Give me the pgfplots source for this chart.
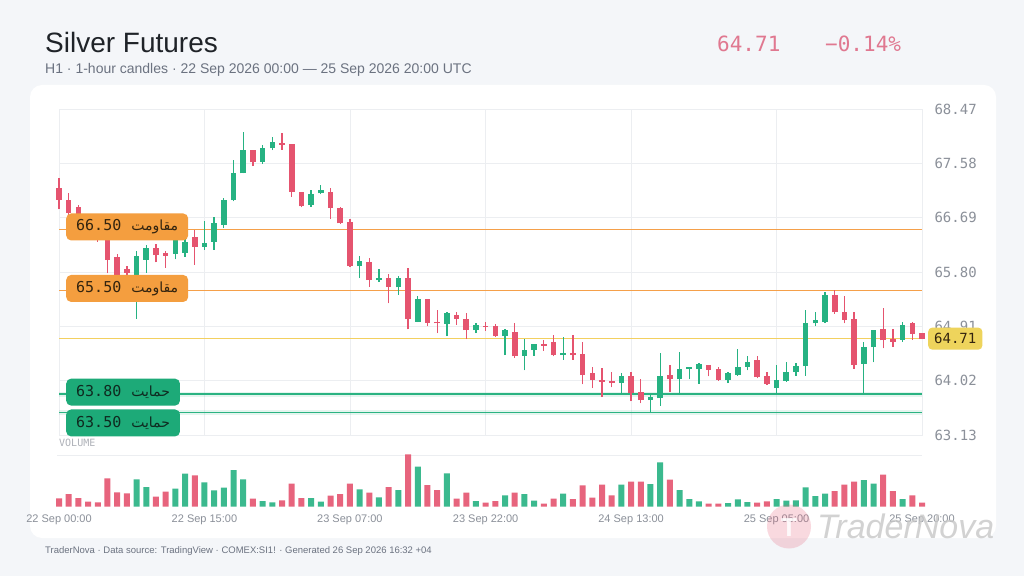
\documentclass[border=0pt]{standalone}
\usepackage{fontspec}
\usepackage{pgfplots}
\usepackage{pgfplotstable}
\pgfplotsset{compat=1.18}
\setmainfont{Liberation Sans}
\newfontfamily\monofont{DejaVu Sans Mono}
\newfontfamily\arabicfont[Script=Arabic]{DejaVu Sans}
\TeXXeTstate=1
\definecolor{bg}{HTML}{F4F6F9}
\definecolor{upc}{HTML}{26B282}
\definecolor{dnc}{HTML}{E5546F}
\definecolor{gridc}{HTML}{ECEEF1}
\definecolor{tickc}{HTML}{8B9099}
\definecolor{orline}{HTML}{F5A04A}
\definecolor{orbox}{HTML}{F49E3F}
\definecolor{grline}{HTML}{2BB382}
\definecolor{grbox}{HTML}{1DAA78}
\definecolor{yline}{HTML}{F3D060}
\definecolor{ytag}{HTML}{EED45C}
\definecolor{pricec}{HTML}{E07890}
\definecolor{titlec}{HTML}{1F2328}
\definecolor{subc}{HTML}{6B7280}
\definecolor{boxtext}{HTML}{33240F}
\definecolor{gboxtext}{HTML}{0F2A20}

\pgfplotstableread{
i O H L C V
8 65.70 66.14 65.04 66.07 82
9 66.00 66.24 65.79 66.19 59
12 66.10 66.39 66.01 66.33 54
13 66.12 66.40 66.05 66.30 99
15 66.22 66.64 66.17 66.28 73
16 66.30 66.71 66.17 66.60 49
17 66.58 67.01 66.52 66.98 57
18 66.98 67.64 66.96 67.42 110
19 67.42 68.10 67.42 67.80 82
21 67.61 67.88 67.58 67.84 17
22 67.83 68.01 67.80 67.94 13
26 66.90 67.15 66.87 67.08 26
27 67.09 67.23 67.08 67.15 15
31 65.90 66.07 65.70 65.99 52
33 65.67 65.85 65.64 65.70 28
35 65.55 65.73 65.43 65.71 50
37 64.99 65.41 64.98 65.36 120
40 64.95 65.15 64.75 65.13 100
43 64.85 64.96 64.80 64.93 17
46 64.75 64.86 64.44 64.85 34
48 64.43 64.71 64.19 64.52 38
49 64.52 64.62 64.43 64.62 18
52 64.44 64.74 64.36 64.47 39
58 63.98 64.15 63.81 64.10 66
61 63.70 63.81 63.51 63.76 68
62 63.73 64.47 63.61 64.10 133
64 64.04 64.49 63.79 64.22 50
65 64.21 64.25 64.04 64.24 23
66 64.21 64.31 63.97 64.29 16
69 64.03 64.17 63.98 64.14 11
70 64.11 64.54 64.10 64.25 22
71 64.25 64.43 64.19 64.33 14
74 63.90 64.28 63.80 64.03 23
75 64.02 64.32 64.00 64.17 18
76 64.17 64.31 64.10 64.26 19
77 64.26 65.18 64.10 64.97 58
78 64.96 65.14 64.91 65.02 32
79 64.99 65.48 64.97 65.43 39
83 64.30 64.66 63.80 64.58 80
84 64.57 64.85 64.32 64.85 69
87 64.69 64.99 64.66 64.93 23
}\upT

\pgfplotstableread{
i O H L C V
0 67.18 67.34 66.83 66.99 25
1 66.98 67.10 66.68 66.77 38
2 66.86 66.90 66.50 66.62 26
3 66.62 66.70 66.42 66.50 15
4 66.50 66.56 66.30 66.36 13
5 66.33 66.36 65.78 66.00 85
6 66.05 66.09 65.70 65.76 43
7 65.85 65.90 65.72 65.79 40
10 66.19 66.26 65.96 66.08 30
11 66.11 66.15 65.87 66.07 45
14 66.38 66.49 65.92 66.22 94
20 67.80 67.80 67.54 67.60 24
23 67.92 68.08 67.81 67.89 19
24 67.90 67.90 67.04 67.12 69
25 67.12 67.12 66.86 66.88 26
28 67.12 67.18 66.67 66.85 33
29 66.85 66.86 66.59 66.60 38
30 66.63 66.67 65.89 65.90 69
32 65.97 66.04 65.56 65.67 42
34 65.70 65.77 65.29 65.56 59
36 65.70 65.86 64.86 65.03 157
38 65.36 65.36 64.91 64.97 65
39 64.99 65.18 64.80 64.96 50
41 65.10 65.15 64.94 65.03 24
42 65.03 65.13 64.71 64.85 42
44 64.92 64.99 64.84 64.90 12
45 64.92 64.95 64.74 64.75 17
47 64.82 64.97 64.40 64.42 42
50 64.63 64.69 64.51 64.59 9
51 64.66 64.77 64.42 64.44 24
53 64.48 64.77 64.36 64.44 23
54 64.46 64.66 63.96 64.11 64
55 64.14 64.25 63.90 64.03 27
56 64.03 64.23 63.76 64.00 66
57 64.02 64.16 63.91 63.98 34
59 64.10 64.17 63.68 63.82 75
60 63.83 64.04 63.65 63.70 75
63 64.11 64.28 63.84 64.04 81
67 64.27 64.27 64.09 64.20 9
68 64.22 64.24 64.02 64.03 9
72 64.36 64.43 64.06 64.08 12
73 64.09 64.17 63.95 63.97 16
80 65.43 65.50 65.12 65.14 47
81 65.15 65.41 64.96 65.02 66
82 65.03 65.14 64.22 64.28 75
85 64.86 65.22 64.55 64.68 96
86 64.70 64.86 64.58 64.66 47
88 64.96 64.99 64.69 64.79 34
89 64.80 64.80 64.70 64.71 12
}\dnT

\newcommand{\lvl}[2]{{\monofont\fontsize{15}{15}\selectfont #1}\hspace{10pt}{\arabicfont\fontsize{14}{14}\selectfont\beginR #2\endR}}

\begin{document}
\begin{tikzpicture}[x=1pt,y=1pt]
\fill[bg] (0,0) rectangle (1024,576);
\fill[white, rounded corners=12pt] (30,38) rectangle (996,491);
\coordinate (candleSW) at (59,141);
\coordinate (volSW) at (59,69.3);

% header
\node[anchor=base west, inner sep=0pt, text=titlec, font=\fontsize{28}{28}\selectfont] at (45,523) {Silver Futures};
\node[anchor=base west, inner sep=0pt, text=subc, font=\fontsize{14}{14}\selectfont] at (45,502) {H1 · 1-hour candles · 22 Sep 2026 00:00 — 25 Sep 2026 20:00 UTC};
\node[anchor=base west, inner sep=0pt, text=pricec, font=\monofont\fontsize{21}{21}\selectfont] at (717,524.5) {64.71};
\node[anchor=base west, inner sep=0pt, text=pricec, font=\monofont\fontsize{21}{21}\selectfont] at (825,524.5) {−0.14\%};

% candle panel
\begin{axis}[at={(candleSW)}, anchor=south west, scale only axis,
  width=863pt, height=325.7pt,
  xmin=0, xmax=89, ymin=63.13, ymax=68.47, clip=false,
  axis line style={draw=gridc, line width=0.8pt},
  xtick={0,15,30,44,59,74,89}, xticklabels={},
  ytick={63.13,64.02,64.91,65.80,66.69,67.58,68.47},
  yticklabels={63.13,64.02,64.91,65.80,66.69,67.58,68.47},
  yticklabel pos=right,
  major tick length=0pt,
  grid=major, major grid style={draw=gridc, line width=0.8pt},
  yticklabel style={font=\monofont\fontsize{14}{14}\selectfont, text=tickc, anchor=west, xshift=9pt},
]
% levels
\addplot[grline, line width=5pt, opacity=0.12, forget plot] coordinates {(0,63.80) (89,63.80)};
\addplot[grline, line width=5pt, opacity=0.12, forget plot] coordinates {(0,63.50) (89,63.50)};
\addplot[orline, line width=1.8pt, forget plot] coordinates {(0,66.50) (89,66.50)};
\addplot[orline, line width=1.8pt, forget plot] coordinates {(0,65.50) (89,65.50)};
\addplot[yline, line width=1.5pt, forget plot] coordinates {(0,64.71) (89,64.71)};
\addplot[grline, line width=1.8pt, forget plot] coordinates {(0,63.80) (89,63.80)};
\addplot[grline, line width=1.8pt, forget plot] coordinates {(0,63.50) (89,63.50)};
% wicks
\addplot[draw=none, mark=none, forget plot, error bars/.cd, y dir=plus, y explicit, error mark=none,
  error bar style={draw=upc, line width=1.3pt}]
  table[x=i, y=L, y error plus expr=\thisrow{H}-\thisrow{L}] {\upT};
\addplot[draw=none, mark=none, forget plot, error bars/.cd, y dir=plus, y explicit, error mark=none,
  error bar style={draw=dnc, line width=1.3pt}]
  table[x=i, y=L, y error plus expr=\thisrow{H}-\thisrow{L}] {\dnT};
% bodies
\addplot[draw=none, mark=none, forget plot, error bars/.cd, y dir=plus, y explicit, error mark=none,
  error bar style={draw=upc, line width=5.6pt}]
  table[x=i, y=O, y error plus expr=\thisrow{C}-\thisrow{O}] {\upT};
\addplot[draw=none, mark=none, forget plot, error bars/.cd, y dir=plus, y explicit, error mark=none,
  error bar style={draw=dnc, line width=5.6pt}]
  table[x=i, y=C, y error plus expr=\thisrow{O}-\thisrow{C}] {\dnT};
% level boxes
\node[anchor=west, fill=orbox, text=boxtext, rounded corners=5pt, minimum height=27pt, inner xsep=10pt, yshift=2.5pt] at (axis cs:0.72,66.50) {\lvl{66.50}{مقاومت}};
\node[anchor=west, fill=orbox, text=boxtext, rounded corners=5pt, minimum height=27pt, inner xsep=10pt, yshift=2pt] at (axis cs:0.72,65.50) {\lvl{65.50}{مقاومت}};
\node[anchor=west, fill=grbox, text=gboxtext, rounded corners=5pt, minimum height=27pt, inner xsep=10pt, yshift=2pt] at (axis cs:0.72,63.80) {\lvl{63.80}{حمایت}};
\node[anchor=west, fill=grbox, text=gboxtext, rounded corners=5pt, minimum height=27pt, inner xsep=10pt, yshift=-10.5pt] at (axis cs:0.72,63.50) {\lvl{63.50}{حمایت}};
\coordinate (tagpt) at (axis cs:89,64.71);
\end{axis}

\node[anchor=west, fill=ytag, text=boxtext, rounded corners=4pt, minimum height=22pt, inner xsep=6pt, font=\monofont\fontsize{14}{14}\selectfont] at ([xshift=6pt]tagpt) {64.71};

% volume label and separator
\node[anchor=west, inner sep=0pt, text=tickc!70, font=\monofont\fontsize{10}{10}\selectfont] at (59,133) {VOLUME};
\draw[gridc, line width=0.8pt] (57,121) -- (922,121);

% volume panel
\begin{axis}[at={(volSW)}, anchor=south west, scale only axis,
  width=863pt, height=52.7pt,
  xmin=0, xmax=89, ymin=0, ymax=158, clip=false,
  axis line style={draw=none},
  ytick=\empty,
  xtick={0,15,30,44,59,74,89},
  xticklabels={22 Sep 00:00,22 Sep 15:00,23 Sep 07:00,23 Sep 22:00,24 Sep 13:00,25 Sep 05:00,25 Sep 20:00},
  major tick length=0pt,
  xticklabel style={font=\fontsize{11}{11}\selectfont, text=tickc, anchor=center, yshift=-13.5pt},
]
\addplot[ybar, bar width=6pt, bar shift=0pt, fill=upc, draw=none, fill opacity=0.9] table[x=i, y=V] {\upT};
\addplot[ybar, bar width=6pt, bar shift=0pt, fill=dnc, draw=none, fill opacity=0.9] table[x=i, y=V] {\dnT};
\end{axis}

% footer
\node[anchor=base west, inner sep=0pt, text=subc, font=\fontsize{9.5}{9.5}\selectfont] at (45,23) {TraderNova · Data source: TradingView · COMEX:SI1! · Generated 26 Sep 2026 16:32 +04};

% watermark
\fill[dnc, opacity=0.22] (789,49.5) circle (22);
\node[text=white, opacity=0.85, font=\bfseries\fontsize{26}{26}\selectfont] at (789,48) {T};
\node[anchor=base west, inner sep=0pt, text=black!22, opacity=0.8, font=\itshape\fontsize{34}{34}\selectfont] at (817,38) {TraderNova};
\end{tikzpicture}
\end{document}
